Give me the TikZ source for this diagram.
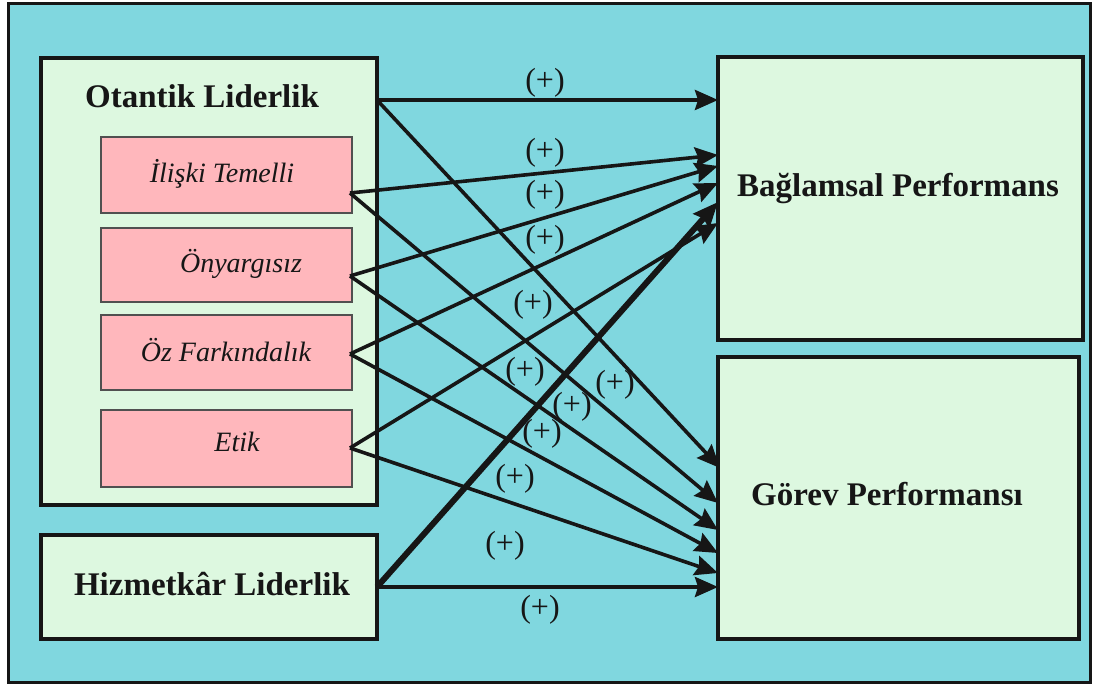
\documentclass[tikz,border=0pt]{standalone}
\usepackage{fontspec}
\setmainfont{Liberation Serif}
\usetikzlibrary{arrows.meta}
\definecolor{bgcyan}{RGB}{128,215,223}
\definecolor{boxgreen}{RGB}{221,248,224}
\definecolor{boxpink}{RGB}{255,183,188}
\definecolor{ink}{RGB}{22,22,22}
\tikzset{
  bigbox/.style={draw=ink, line width=3.2pt, fill=boxgreen, inner sep=0pt},
  dimbox/.style={draw=ink!75, line width=1.4pt, fill=boxpink, inner sep=0pt,
    minimum width=251pt},
  headtxt/.style={font=\fontsize{33}{38}\selectfont\bfseries, text=ink,
    anchor=base, inner sep=0pt},
  dimtxt/.style={font=\fontsize{28}{32}\selectfont\itshape, text=ink,
    anchor=base, inner sep=0pt},
  plus/.style={font=\fontsize{32}{36}\selectfont, text=ink, inner sep=0pt},
  link/.style={draw=ink, line width=3.6pt,
    -{Stealth[length=23pt, width=20pt, inset=3pt]}},
  boldlink/.style={link, line width=6pt,
    -{Stealth[length=25pt, width=21pt, inset=3pt]}},
}
\begin{document}
\begin{tikzpicture}[x=1pt, y=-1pt]
\useasboundingbox (0,0) rectangle (1093,684);
% frame
\draw[draw=ink, line width=3pt, fill=bgcyan] (8,4) rectangle (1090,682);

% independent variables
\node[bigbox, minimum width=336pt, minimum height=447pt] (otantik) at (209,281.5) {};
\node[bigbox, minimum width=336pt, minimum height=104pt] (hizmet) at (209,587) {};
\node[dimbox, minimum height=76pt] (ilis) at (226.5,175) {};
\node[dimbox, minimum height=74pt] (onyar) at (226.5,265) {};
\node[dimbox, minimum height=75pt] (ozfark) at (226.5,352.5) {};
\node[dimbox, minimum height=77pt] (etik) at (226.5,448.5) {};

% dependent variables
\node[bigbox, minimum width=365pt, minimum height=283pt] (baglam) at (900.5,198.5) {};
\node[bigbox, minimum width=361pt, minimum height=282pt] (gorev) at (898.5,498) {};

% texts
\node[headtxt] (tOtantik) at (202,108) {Otantik Liderlik};
\node[headtxt] (tHizmet) at (212,595) {Hizmetkâr Liderlik};
\node[headtxt] (tBaglam) at (898,197) {Bağlamsal Performans};
\node[headtxt] (tGorev) at (887,505) {Görev Performansı};
\node[dimtxt] (tIlis) at (222,183) {İlişki Temelli};
\node[dimtxt] (tOnyar) at (241,273) {Önyargısız};
\node[dimtxt] (tOzfark) at (226,362) {Öz Farkındalık};
\node[dimtxt] (tEtik) at (237,452) {Etik};

% outgoing ports
\coordinate (oOut) at (377,100);
\coordinate (iOut) at (350,193);
\coordinate (nOut) at (350,276);
\coordinate (zOut) at (350,354);
\coordinate (eOut) at (350,448);
\coordinate (hOut) at (377,587);

% incoming ports on Bağlamsal Performans
\coordinate (bInO) at (718,100);
\coordinate (bInI) at (718,155);
\coordinate (bInN) at (718,166);
\coordinate (bInZ) at (718,183);
\coordinate (bInH) at (718,202);
\coordinate (bInE) at (718,223);

% incoming ports on Görev Performansı
\coordinate (gInO) at (720,468);
\coordinate (gInI) at (718,503);
\coordinate (gInN) at (718,530);
\coordinate (gInZ) at (718,553);
\coordinate (gInE) at (718,573);
\coordinate (gInH) at (718,587);

% paths
\draw[link] (oOut) -- (bInO);
\draw[link] (oOut) -- (gInO);
\draw[link] (iOut) -- (bInI);
\draw[link] (iOut) -- (gInI);
\draw[link] (nOut) -- (bInN);
\draw[link] (nOut) -- (gInN);
\draw[link] (zOut) -- (bInZ);
\draw[link] (zOut) -- (gInZ);
\draw[link] (eOut) -- (bInE);
\draw[link] (eOut) -- (gInE);
\draw[boldlink] (hOut) -- (bInH);
\draw[link] (hOut) -- (gInH);

% signs
\node[plus] (p1) at (545,83) {(+)};
\node[plus] (p2) at (545,153) {(+)};
\node[plus] (p3) at (545,195) {(+)};
\node[plus] (p4) at (545,240) {(+)};
\node[plus] (p5) at (533,305) {(+)};
\node[plus] (p6) at (525,372) {(+)};
\node[plus] (p7) at (615,385) {(+)};
\node[plus] (p8) at (572,407) {(+)};
\node[plus] (p9) at (542,434) {(+)};
\node[plus] (p10) at (515,479) {(+)};
\node[plus] (p11) at (505,546) {(+)};
\node[plus] (p12) at (540,610) {(+)};
\end{tikzpicture}
\end{document}
